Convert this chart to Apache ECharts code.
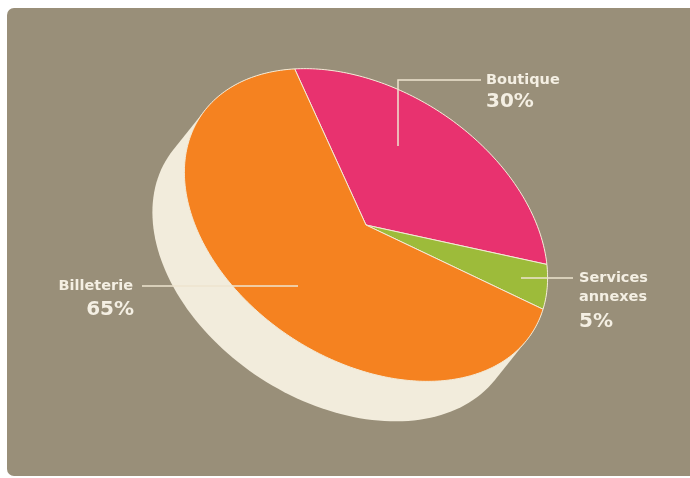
<!DOCTYPE html>
<html>
<head>
<meta charset="utf-8">
<script src="https://cdn.jsdelivr.net/npm/echarts@6/dist/echarts.min.js"></script>
<style>
  html, body { margin: 0; padding: 0; background: #ffffff; }
  #chart { width: 690px; height: 478px; }
</style>
</head>
<body>
<div id="chart"></div>
<script>
// ---- data ----
const categories = ['Boutique', 'Services annexes', 'Billeterie'];
const values = [30, 5, 65];
const percentLabels = ['30%', '5%', '65%'];

// ---- styling / geometry of the tilted disc ----
const sliceColors = ['#e8326f', '#9dbb3a', '#f58220'];
const SIDE_COLOR = '#f2ecdc';
const BG_COLOR = '#998f79';
const TEXT_COLOR = '#f4efe3';
const LINE_COLOR = '#eee5cf';
const CX = 366, CY = 225;          // centre of top face
const A = 198, B = 135;            // semi-axes of the top ellipse
const TILT = 33 * Math.PI / 180;   // rotation of the major axis
const DEPTH = [-32, 40];           // extrusion of the disc
const START = -137;                // start angle (deg) of first slice
const COS = Math.cos(TILT), SIN = Math.sin(TILT);

function ellPt(phiDeg, ox, oy) {
  const p = phiDeg * Math.PI / 180;
  const u = A * Math.cos(p), v = B * Math.sin(p);
  return [CX + u * COS - v * SIN + (ox || 0), CY + u * SIN + v * COS + (oy || 0)];
}
function hull(pts) {
  pts = pts.slice().sort((a, b) => a[0] - b[0] || a[1] - b[1]);
  const cross = (o, a, b) => (a[0] - o[0]) * (b[1] - o[1]) - (a[1] - o[1]) * (b[0] - o[0]);
  const lower = [], upper = [];
  for (const p of pts) { while (lower.length >= 2 && cross(lower[lower.length - 2], lower[lower.length - 1], p) <= 0) lower.pop(); lower.push(p); }
  for (let i = pts.length - 1; i >= 0; i--) { const p = pts[i]; while (upper.length >= 2 && cross(upper[upper.length - 2], upper[upper.length - 1], p) <= 0) upper.pop(); upper.push(p); }
  upper.pop(); lower.pop();
  return lower.concat(upper);
}

// label layout (per slice, same order as data)
const labelLayout = [
  { line: [[398, 146], [398, 80], [481, 80]], nx: 486, ny: 80, px: 486, py: 102, align: 'left' },
  { line: [[521, 278], [573, 278]], nx: 579, ny: 278, px: 579, py: 322, align: 'left' },
  { line: [[298, 286], [142, 286]], nx: 133, ny: 286, px: 134, py: 310, align: 'right' }
];

const total = values.reduce((s, v) => s + v, 0);

const chart = echarts.init(document.getElementById('chart'), null, { renderer: 'canvas' });
chart.setOption({
  backgroundColor: '#ffffff',
  animation: false,
  graphic: [{
    type: 'rect', z: 0,
    shape: { x: 7, y: 8, width: 700, height: 468, r: 7 },
    style: { fill: BG_COLOR }
  }],
  series: [
    {
      type: 'custom', name: 'side', coordinateSystem: 'none', z: 3,
      data: [total],
      renderItem: function () {
        const pts = [];
        for (let a = 0; a < 360; a += 2) {
          pts.push(ellPt(a));
          pts.push(ellPt(a, DEPTH[0], DEPTH[1]));
        }
        return { type: 'polygon', shape: { points: hull(pts) }, style: { fill: SIDE_COLOR } };
      }
    },
    {
      type: 'custom', name: 'recettes', coordinateSystem: 'none', z: 4,
      data: values.map((v, i) => ({ name: categories[i], value: v })),
      renderItem: function (params, api) {
        const i = params.dataIndex;
        let before = 0;
        for (let k = 0; k < i; k++) before += values[k];
        const a0 = START + before / total * 360;
        const a1 = a0 + api.value(0) / total * 360;
        const pts = [[CX, CY]];
        const n = Math.max(4, Math.ceil((a1 - a0) / 1));
        for (let k = 0; k <= n; k++) pts.push(ellPt(a0 + (a1 - a0) * k / n));
        const L = labelLayout[i];
        const nameText = categories[i].replace(' ', '\n');
        return {
          type: 'group',
          children: [
            { type: 'polygon', shape: { points: pts },
              style: { fill: sliceColors[i], stroke: '#f3ead6', lineWidth: 1 } },
            { type: 'polyline', shape: { points: L.line }, z2: 10,
              style: { stroke: LINE_COLOR, lineWidth: 1.5, fill: null } },
            { type: 'text', x: L.nx, y: L.ny - 9.5, z2: 10,
              style: { text: nameText, fill: TEXT_COLOR, font: 'bold 14.5px "DejaVu Sans"',
                       align: L.align, verticalAlign: 'top', lineHeight: 19 } },
            { type: 'text', x: L.px, y: L.py, z2: 10,
              style: { text: percentLabels[i], fill: TEXT_COLOR, font: 'bold 20px "DejaVu Sans"',
                       align: L.align, verticalAlign: 'middle' } }
          ]
        };
      }
    }
  ]
});
</script>
</body>
</html>
